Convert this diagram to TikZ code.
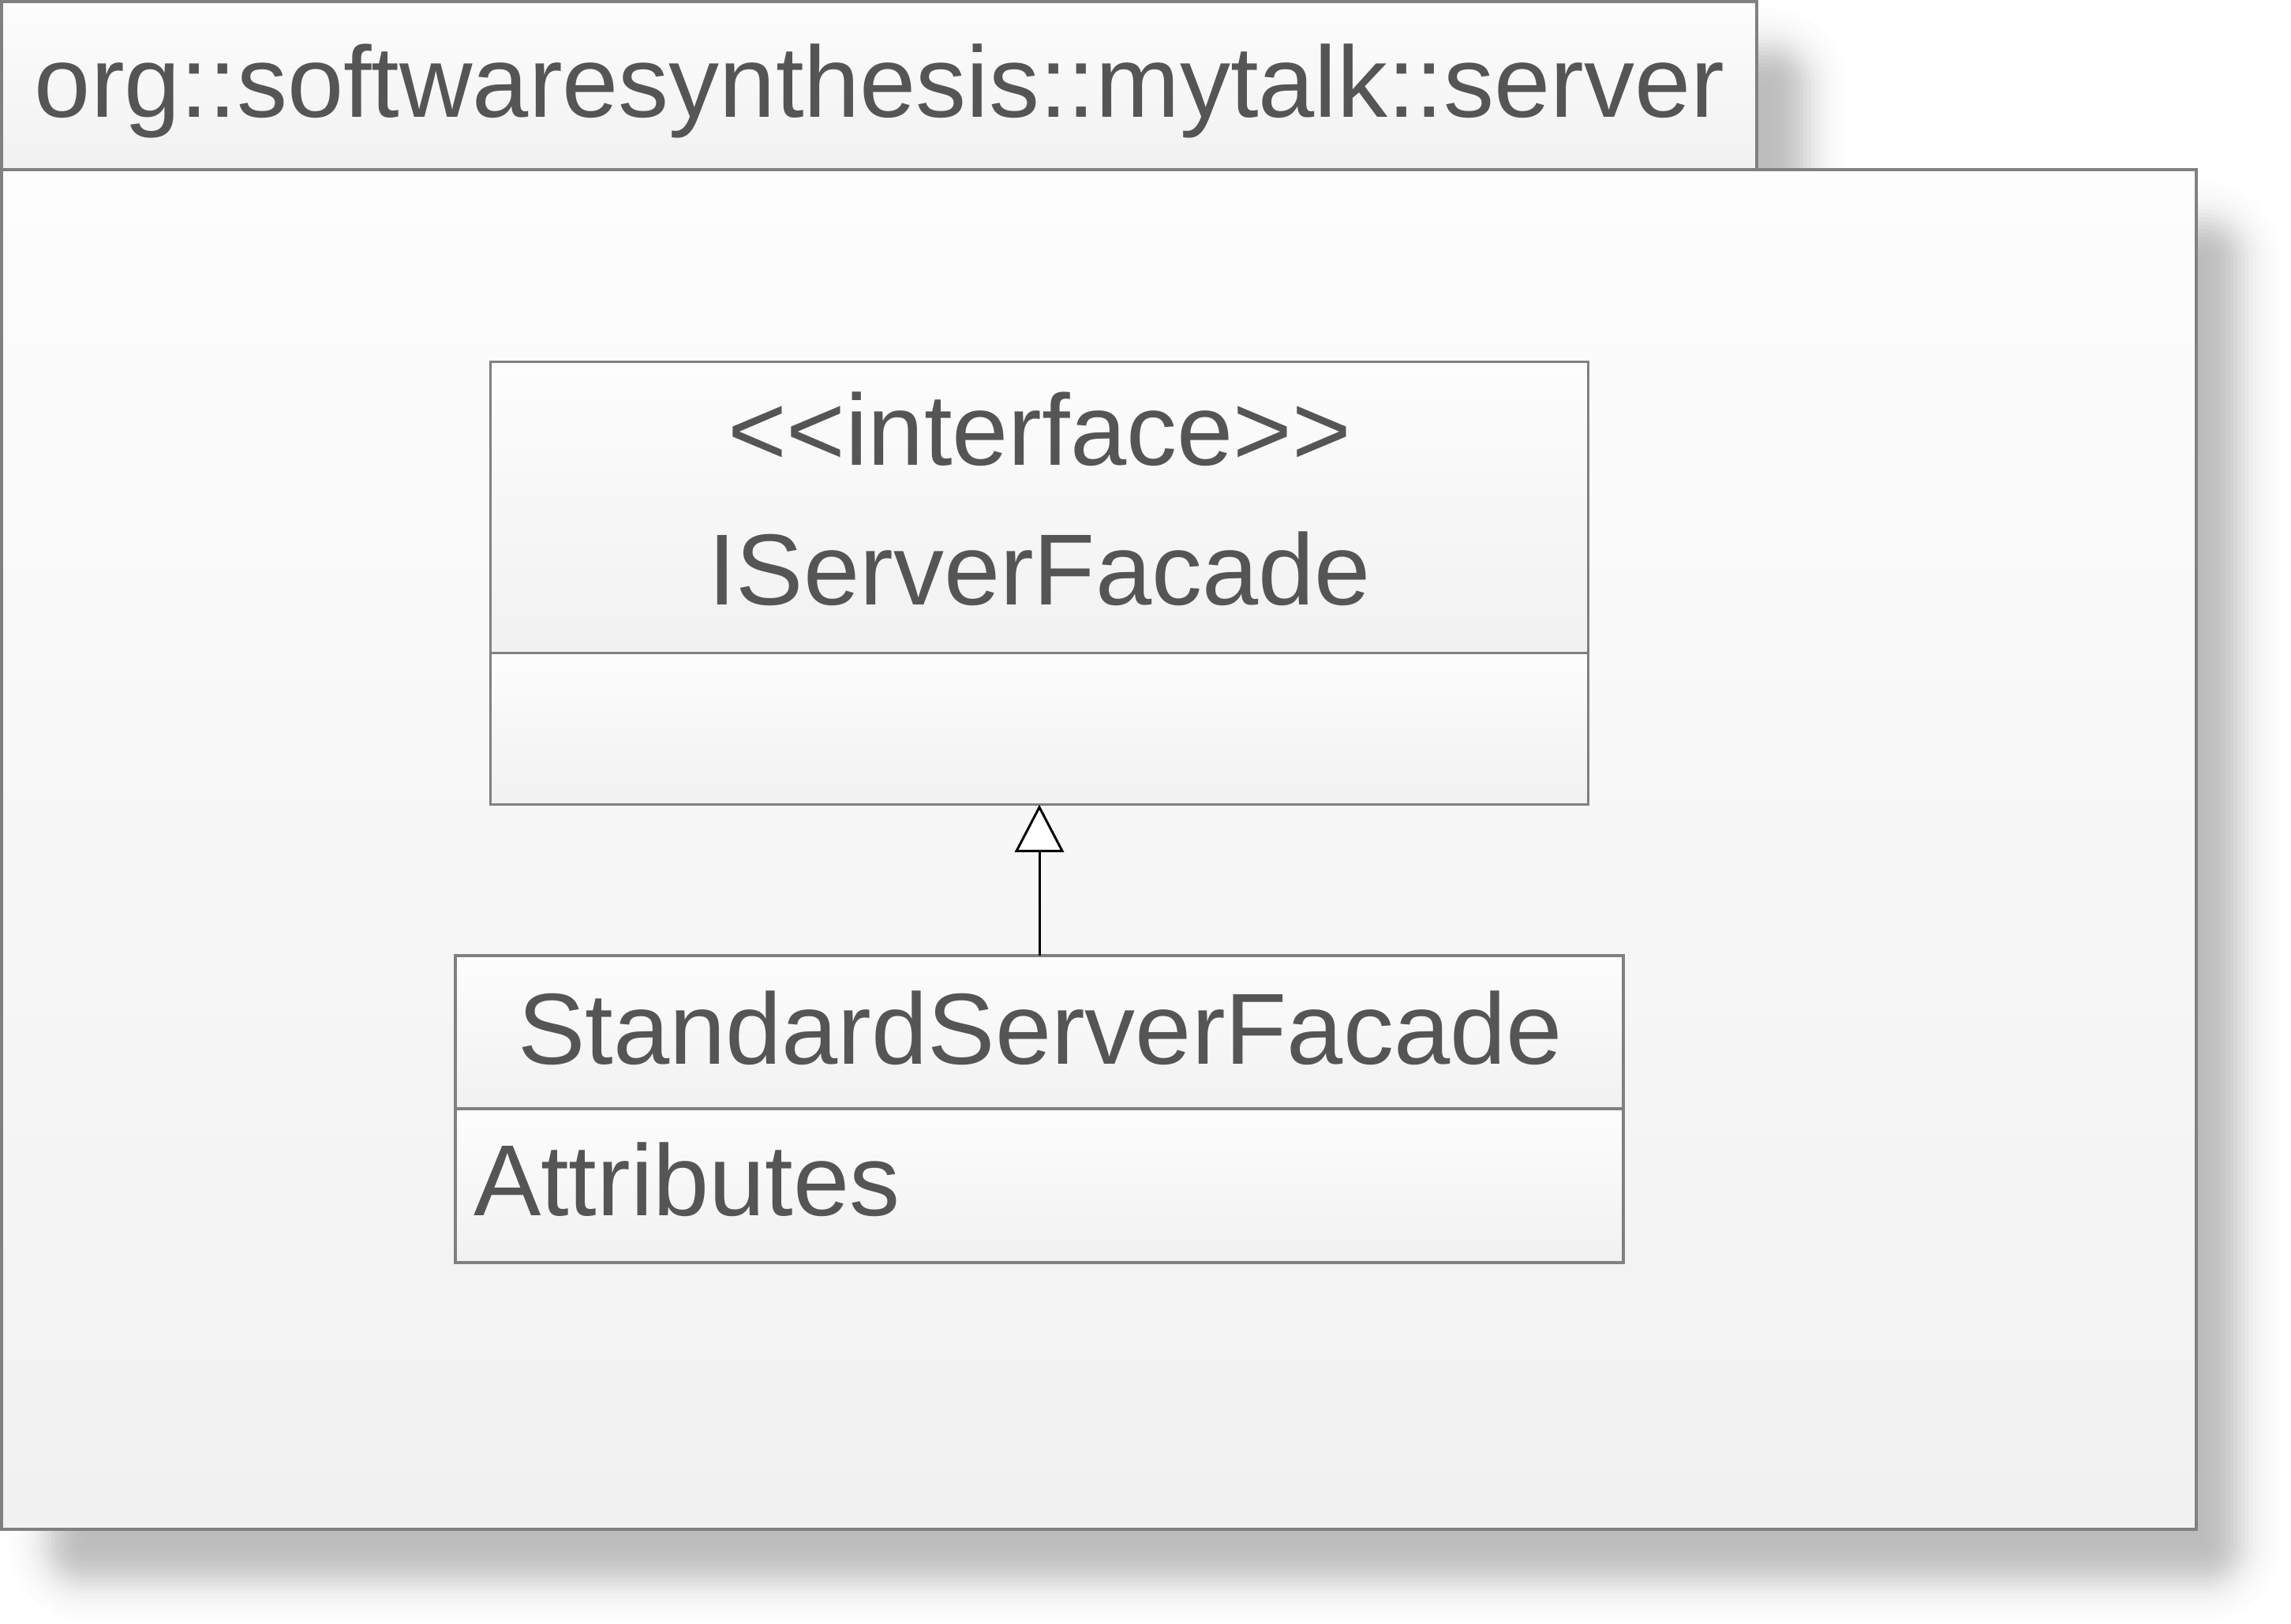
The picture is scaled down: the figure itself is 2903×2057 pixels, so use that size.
\documentclass[tikz,border=0pt]{standalone}
\usepackage{fontspec}
\setmainfont{Liberation Sans}
\usetikzlibrary{positioning, arrows.meta}
\usepackage{xcolor}

\definecolor{umlline}{HTML}{808080}
\definecolor{umltext}{HTML}{555555}
\definecolor{umltop}{HTML}{FDFDFD}
\definecolor{umlbottom}{HTML}{F1F1F1}

\begin{document}
\begin{tikzpicture}[
        x=0.01cm, y=-0.01cm,
        every node/.style={
            font=\fontsize{36.4}{44}\selectfont,
            text=umltext,
            inner sep=0pt,
            outer sep=0pt
        },
        pkgbox/.style={
            draw=umlline,
            line width=1.1pt,
            top color=umltop,
            bottom color=umlbottom,
            anchor=north west
        },
        compartment/.style={
            draw=umlline,
            line width=1pt,
            top color=umltop,
            bottom color=umlbottom
        },
        realize/.style={
            draw=black,
            line width=0.85pt,
            -{Triangle[open, fill=white, length=0.6cm, width=0.62cm]}
        }
    ]
        \useasboundingbox (0,0) rectangle (2903,2057);
        \fill[white] (0,0) rectangle (2903,2057);

        % Soft shadow behind the package
        \foreach \w in {200,190,...,0} {
            \pgfmathsetmacro{\dk}{27/(1+exp(-1.702*(50-\w/2)/25))}
            \filldraw[black!\dk, line width=\w*0.01cm, line join=round]
                (110,110) -- (2240,110) -- (2240,330) -- (2790,330)
                -- (2790,1955) -- (110,1955) -- cycle;
        }

        % Package frame with its tab
        \node[pkgbox, minimum width=27.79cm, minimum height=17.22cm] (pkgbody) at (2,215) {};
        \node[pkgbox, minimum width=22.23cm, minimum height=2.13cm] (pkgtab) at (2,2) {};
        \node[anchor=base west] (pkgname) at (44,148) {org::softwaresynthesis::mytalk::server};

        % Interface class
        \node[compartment, minimum width=13.9cm, minimum height=3.69cm] (ifhead) at (1317,643) {};
        \node[compartment, below=0pt of ifhead, minimum width=13.9cm, minimum height=1.92cm] (ifbody) {};
        \node[anchor=base] (ifstereo) at (1317,589) {<\kern0pt<interface>\kern0pt>};
        \node[anchor=base] (ifname) at (1317,766) {IServerFacade};

        % Implementing class
        \node[compartment, below=1.91cm of ifbody, minimum width=14.79cm, minimum height=1.94cm] (stdhead) {};
        \node[compartment, below=0pt of stdhead, minimum width=14.79cm, minimum height=1.95cm] (stdattr) {};
        \node[anchor=base] (stdname) at (1318,1348) {StandardServerFacade};
        \node[anchor=base west] (stdattrs) at (600,1540) {Attributes};

        % Realization
        \draw[realize] (stdhead.north) -- (ifbody.south);
    \end{tikzpicture}
\end{document}
